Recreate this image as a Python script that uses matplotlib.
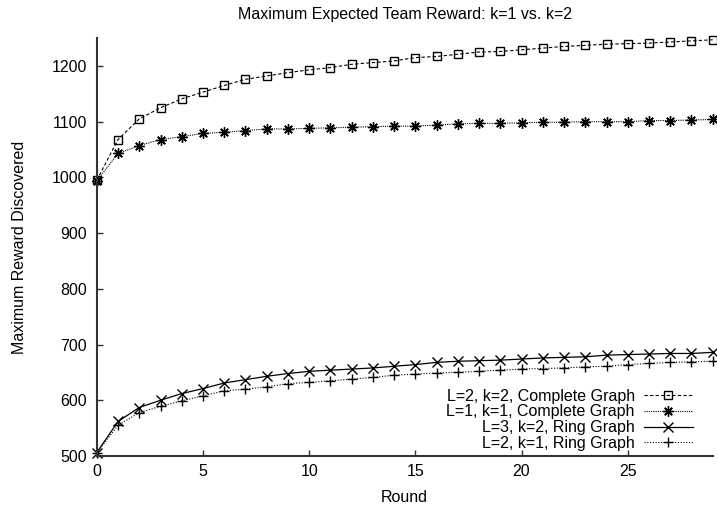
import numpy as np
import matplotlib.pyplot as plt

plt.rcParams['font.family'] = ['Liberation Sans', 'DejaVu Sans']

rounds = np.arange(30)

# L=2, k=2, Complete Graph
complete_k2 = [995, 1068, 1105, 1125, 1141, 1153, 1165, 1176, 1182, 1188,
               1193, 1197, 1203, 1206, 1209, 1215, 1217, 1221, 1225, 1226,
               1229, 1232, 1235, 1237, 1239, 1240, 1241, 1243, 1245, 1247]
# L=1, k=1, Complete Graph
complete_k1 = [994, 1043, 1057, 1068, 1073, 1079, 1081, 1084, 1087, 1087,
               1088, 1089, 1090, 1091, 1092, 1092, 1094, 1096, 1097, 1097,
               1098, 1099, 1099, 1100, 1100, 1100, 1102, 1102, 1103, 1104]
# L=3, k=2, Ring Graph
ring_k2 = [506, 562, 587, 600, 612, 621, 631, 637, 643, 648,
           652, 654, 656, 658, 661, 664, 668, 670, 671, 672,
           674, 676, 677, 678, 681, 682, 683, 684, 684, 686]
# L=2, k=1, Ring Graph
ring_k1 = [506, 555, 578, 589, 599, 608, 617, 620, 624, 630,
           632, 635, 638, 641, 645, 647, 649, 650, 652, 654,
           656, 657, 658, 660, 661, 664, 666, 668, 669, 670]

labels = ["L=2, k=2, Complete Graph", "L=1, k=1, Complete Graph",
          "L=3, k=2, Ring Graph", "L=2, k=1, Ring Graph"]

fig = plt.figure(figsize=(7.17, 5.08), dpi=100)
ax = fig.add_axes([0.135, 0.1024, 0.859, 0.8226])

ax.plot(rounds, complete_k2, color='black', lw=0.8, ls=(0, (3, 2)),
        marker='s', ms=6, mfc='none', mew=1.0, clip_on=False, label=labels[0])
ax.plot(rounds, complete_k1, color='black', lw=0.8, ls=(0, (1, 1)),
        marker=(8, 2, 0), ms=7.5, mew=1.0, clip_on=False, label=labels[1])
ax.plot(rounds, ring_k2, color='black', lw=0.9, ls='-',
        marker='x', ms=7, mew=1.0, clip_on=False, label=labels[2])
ax.plot(rounds, ring_k1, color='black', lw=0.8, ls=(0, (1, 1.5)),
        marker='+', ms=7.5, mew=1.0, clip_on=False, label=labels[3])

ax.set_xlim(0, 29)
ax.set_ylim(500, 1250)
ax.set_xticks([0, 5, 10, 15, 20, 25])
ax.set_yticks(range(500, 1201, 100))

for s in ['top', 'right']:
    ax.spines[s].set_visible(False)
for s in ['left', 'bottom']:
    ax.spines[s].set_linewidth(1.5)
    ax.spines[s].set_color('#333333')
ax.tick_params(direction='in', length=4, width=1, labelsize=11.5,
               color='#333333')
ax.tick_params(axis='y', pad=7)
ax.tick_params(axis='x', pad=6)

ax.set_title("Maximum Expected Team Reward: k=1 vs. k=2", fontsize=11.5,
             y=1.0574, va='center', pad=0)
ax.set_xlabel("Round", fontsize=11.5, va='center')
ax.xaxis.set_label_coords(0.5, -0.1005)
ax.set_ylabel("Maximum Reward Discovered", fontsize=11.5, va='center')
ax.yaxis.set_label_coords(-0.125, 0.5)

ax.legend(loc='lower right', bbox_to_anchor=(701 / 717, 1 - 459 / 508),
          bbox_transform=fig.transFigure, frameon=False, borderpad=0,
          markerfirst=False, fontsize=11.5, handlelength=3.1,
          labelspacing=0.05, handletextpad=0.55)

fig.savefig("out.png", dpi=100)
